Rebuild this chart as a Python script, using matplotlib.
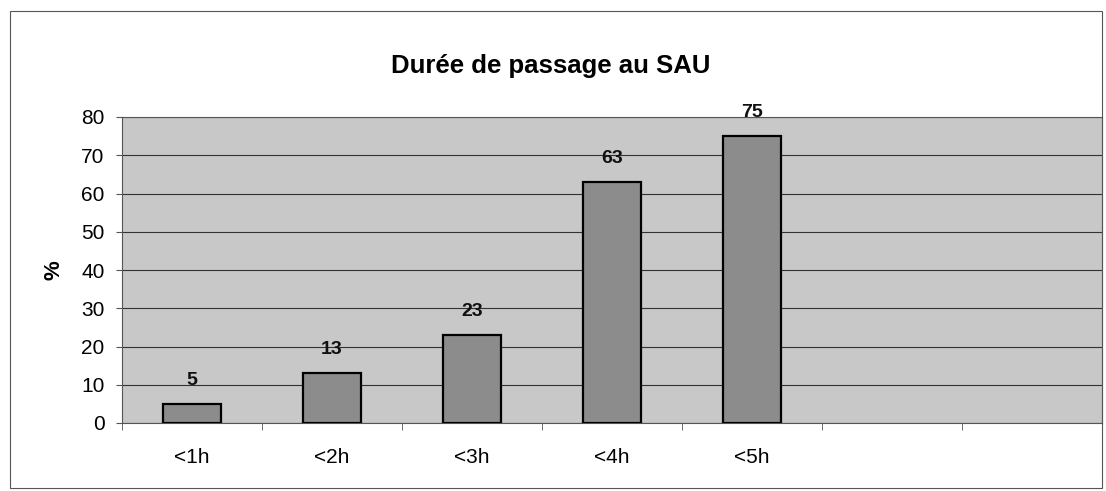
import numpy as np
import matplotlib.pyplot as plt
from matplotlib.patches import Rectangle

plt.rcParams['font.family'] = ['Liberation Sans', 'DejaVu Sans']

# Données
categories = ['<1h', '<2h', '<3h', '<4h', '<5h', '', '']
valeurs = [5, 13, 23, 63, 75]
titre = 'Durée de passage au SAU'

fig = plt.figure(figsize=(11.06, 4.91), dpi=100)
fig.patch.set_facecolor('white')

# cadre extérieur du graphique
fig.patches.append(Rectangle((10 / 1106, 3 / 491), 1092 / 1106, 477 / 491,
                             transform=fig.transFigure, fill=False,
                             edgecolor='#555555', linewidth=0.8))

ax = fig.add_axes([122 / 1106, 1 - 423 / 491, 980 / 1106, 306 / 491])
ax.set_facecolor('#c8c8c8')

x = np.arange(len(categories))
ax.bar(x[:len(valeurs)], valeurs, width=0.41, color='#8c8c8c',
       edgecolor='black', linewidth=1.6, zorder=3)

# étiquettes de valeur
for xi, v in zip(x, valeurs):
    ax.text(xi, v + 6.2, str(v), ha='center', va='center',
            fontsize=14, fontweight='bold', color='#111111')

ax.set_xlim(-0.5, len(categories) - 0.5)
ax.set_ylim(0, 80)
ax.set_yticks(range(0, 81, 10))
ax.yaxis.grid(True, color='#333333', linewidth=0.8, zorder=0)
ax.set_axisbelow(True)

ax.set_xticks(x)
ax.set_xticklabels(categories, fontsize=15)
ax.tick_params(axis='x', length=0, pad=18)
ax.set_xticks(np.arange(-0.5, len(categories), 1), minor=True)
ax.tick_params(axis='x', which='minor', length=5, color='#555555')
ax.tick_params(axis='y', labelsize=15, length=4.5, color='#555555', pad=8)

for s in ax.spines.values():
    s.set_color('#555555')
    s.set_linewidth(0.8)

ax.set_ylabel('%', fontsize=16, fontweight='bold', labelpad=12)
fig.text(0.498, 1 - 66 / 491, titre, ha='center', va='center',
         fontsize=18.5, fontweight='bold')

fig.savefig('out.png', dpi=100)
